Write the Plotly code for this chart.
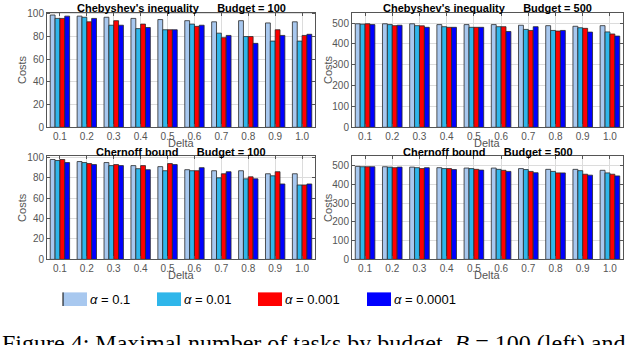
import plotly.graph_objects as go
from plotly.subplots import make_subplots

delta = ["0.1", "0.2", "0.3", "0.4", "0.5", "0.6", "0.7", "0.8", "0.9", "1.0"]
alphas = ["0.1", "0.01", "0.001", "0.0001"]
colors = ["#a8c8ef", "#2fb6ea", "#ff0000", "#0000ff"]

# Chebyshev, budget 100 (one list per alpha)
cheb100_a1 = [99, 98, 97, 96, 95, 94, 93, 94, 92, 93]
cheb100_a2 = [96, 97, 90, 87, 86, 91, 83, 80, 76, 76]
cheb100_a3 = [96, 93, 94, 91, 86, 89, 79, 80, 86, 81]
cheb100_a4 = [98, 96, 90, 88, 86, 90, 81, 74, 81, 82]

# Chebyshev, budget 500
cheb500_a1 = [497, 497, 497, 493, 493, 493, 490, 488, 485, 488]
cheb500_a2 = [495, 493, 488, 483, 480, 483, 470, 465, 478, 458]
cheb500_a3 = [497, 488, 487, 480, 480, 483, 465, 462, 475, 448]
cheb500_a4 = [493, 490, 480, 480, 480, 460, 483, 465, 457, 438]

# Chernoff, budget 100
chern100_a1 = [98, 96, 95, 92, 91, 88, 87, 87, 84, 84]
chern100_a2 = [97, 95, 92, 89, 87, 87, 80, 79, 82, 73]
chern100_a3 = [98, 94, 93, 92, 94, 87, 84, 81, 86, 73]
chern100_a4 = [95, 93, 92, 88, 93, 90, 86, 79, 74, 74]

# Chernoff, budget 500
chern500_a1 = [497, 495, 493, 490, 488, 488, 485, 481, 481, 476]
chern500_a2 = [495, 493, 490, 485, 485, 481, 480, 470, 474, 462]
chern500_a3 = [495, 490, 485, 485, 481, 476, 470, 462, 455, 455]
chern500_a4 = [495, 493, 490, 480, 477, 470, 463, 462, 450, 446]

panels = [
    (1, 1, [cheb100_a1, cheb100_a2, cheb100_a3, cheb100_a4]),
    (1, 2, [cheb500_a1, cheb500_a2, cheb500_a3, cheb500_a4]),
    (2, 1, [chern100_a1, chern100_a2, chern100_a3, chern100_a4]),
    (2, 2, [chern500_a1, chern500_a2, chern500_a3, chern500_a4]),
]

W, H = 640, 345
def px_x(v):
    return v / W
def px_y(v):
    return 1 - v / H

fig = make_subplots(rows=2, cols=2)

for r, c, series in panels:
    for i, vals in enumerate(series):
        fig.add_trace(go.Bar(x=delta, y=vals, marker_color=colors[i],
                             marker_line=dict(color="#2a2a2a", width=0.8),
                             showlegend=False), row=r, col=c)

# axes positions (pixels)
xdom = {1: (47, 315), 2: (352, 623)}
ydom = {1: (9, 127), 2: (157, 263)}
for r in (1, 2):
    for c in (1, 2):
        fig.update_xaxes(row=r, col=c, domain=[px_x(xdom[c][0]), px_x(xdom[c][1])],
                         range=[-0.48, 9.48], showline=True, mirror="ticks",
                         linecolor="#555", linewidth=1, ticks="inside", ticklen=3,
                         tickcolor="#555", showgrid=True, gridcolor="#dcdcdc",
                         tickfont=dict(family="Liberation Sans", size=10, color="#555"))
        ymax = 101 if c == 1 else 550
        dt = 20 if c == 1 else 100
        fig.update_yaxes(row=r, col=c, domain=[px_y(ydom[r][1]), px_y(ydom[r][0])],
                         range=[0, ymax], dtick=dt, showline=True, mirror="ticks",
                         linecolor="#555", linewidth=1, ticks="inside", ticklen=3,
                         tickcolor="#555", showgrid=True, gridcolor="#dcdcdc",
                         zeroline=False,
                         tickfont=dict(family="Liberation Sans", size=10, color="#555"))

titles = {
    (1, 1): "Chebyshev's inequality      Budget = 100",
    (1, 2): "Chebyshev's inequality      Budget = 500",
    (2, 1): "Chernoff bound      Budget = 100",
    (2, 2): "Chernoff bound      Budget = 500",
}
ann = []
for (r, c), t in titles.items():
    cx = (xdom[c][0] + xdom[c][1]) / 2
    ann.append(dict(text="<b>" + t.replace("  ", "&nbsp;&nbsp;") + "</b>",
                    x=px_x(cx), y=px_y(ydom[r][0] - 5), xref="paper", yref="paper",
                    xanchor="center", yanchor="middle", showarrow=False,
                    font=dict(family="Liberation Sans", size=11, color="black")))
    ann.append(dict(text="Delta", x=px_x(cx), y=px_y(ydom[r][1] + 16), xref="paper", yref="paper",
                    xanchor="center", yanchor="middle", showarrow=False,
                    font=dict(family="Liberation Sans", size=11, color="#555")))
    ann.append(dict(text="Costs", x=px_x(22 if c == 1 else 328), y=px_y((ydom[r][0] + ydom[r][1]) / 2),
                    xref="paper", yref="paper", textangle=-90, showarrow=False,
                    xanchor="center", yanchor="middle",
                    font=dict(family="Liberation Sans", size=11, color="#555")))

# legend (manual)
shapes = []
leg_x = [63, 157, 258, 367]
for i, a in enumerate(alphas):
    shapes.append(dict(type="rect", xref="paper", yref="paper",
                       x0=px_x(leg_x[i]), x1=px_x(leg_x[i] + 24),
                       y0=px_y(311), y1=px_y(297), fillcolor=colors[i], line_width=0))
    ann.append(dict(text="<i>α</i> = " + a, x=px_x(leg_x[i] + 25), y=px_y(304),
                    xref="paper", yref="paper", xanchor="left", yanchor="middle",
                    showarrow=False,
                    font=dict(family="Liberation Sans", size=13, color="black")))
shapes.append(dict(type="line", xref="paper", yref="paper", x0=px_x(63), x1=px_x(63),
                   y0=px_y(311), y1=px_y(297), line=dict(color="black", width=1)))

# caption, cut off by the bottom edge
ann.append(dict(text="Figure 4: Maximal number of tasks by budget  <i>B</i> = 100 (left) and",
                x=0, y=px_y(334), xref="paper", yref="paper", xanchor="left", yanchor="top",
                showarrow=False, font=dict(family="Liberation Serif", size=24, color="black")))

fig.update_layout(width=W, height=H, margin=dict(l=0, r=0, t=0, b=0),
                  paper_bgcolor="white", plot_bgcolor="white",
                  barmode="group", bargap=0.28, bargroupgap=0,
                  annotations=ann, shapes=shapes, showlegend=False)

fig.write_html("out.html", config={"displayModeBar": False},
               post_script="document.body.style.margin='0';document.body.style.overflow='hidden';")
